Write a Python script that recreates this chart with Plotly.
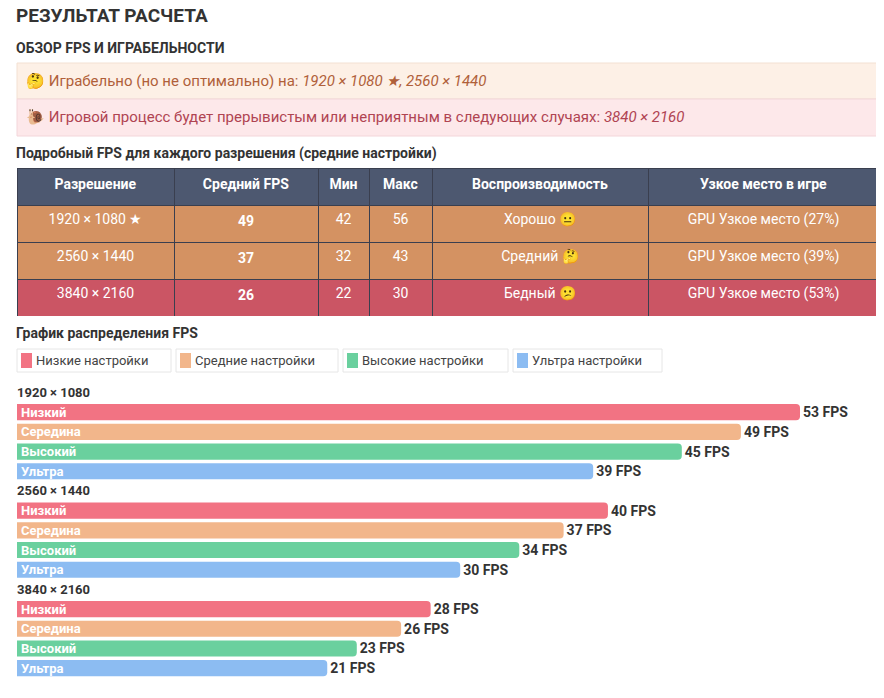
import plotly.graph_objects as go

# data ------------------------------------------------------------------------
resolutions = ["1920 × 1080", "2560 × 1440", "3840 × 2160"]
settings = ["Низкий", "Середина", "Высокий", "Ультра"]
legend_names = ["Низкие настройки", "Средние настройки", "Высокие настройки", "Ультра настройки"]
fps_low = [53, 40, 28]
fps_mid = [49, 37, 26]
fps_high = [45, 34, 23]
fps_ultra = [39, 30, 21]
colors = ["#f27383", "#f2b68b", "#6ad09e", "#8cbcf2"]

tbl_res = ["1920 × 1080 ★", "2560 × 1440", "3840 × 2160"]
tbl_avg = [49, 37, 26]
tbl_min = [42, 32, 22]
tbl_max = [56, 43, 30]
tbl_play = ["Хорошо 😐", "Средний 🤔", "Бедный 😕"]
tbl_bottleneck = ["GPU Узкое место (27%)", "GPU Узкое место (39%)", "GPU Узкое место (53%)"]
row_colors = ["#d49262", "#d49262", "#cb5564"]

W, H = 884, 698
OFF = 8  # page body margin
FONT = "Roboto"


def py(px):
    return 1 - (px - OFF) / H


def pxx(px):
    return (px - OFF) / W


fig = go.Figure()

# bar chart -------------------------------------------------------------------
series = [fps_low, fps_mid, fps_high, fps_ultra]
slots = []
for r in resolutions:
    slots.append(r + "|h")
    for s in settings:
        slots.append(r + "|" + s)

for si, (name, vals) in enumerate(zip(settings, series)):
    fig.add_trace(go.Bar(
        orientation="h",
        x=vals,
        y=[r + "|" + name for r in resolutions],
        marker=dict(color=colors[si], line=dict(width=0)),
        width=0.82,
        text=[f"<b>{v} FPS</b>" for v in vals],
        textposition="outside",
        cliponaxis=False,
        textfont=dict(size=14, color="#333", family=FONT),
        showlegend=False,
        hoverinfo="skip",
    ))
    for r in resolutions:
        fig.add_annotation(x=0, y=r + "|" + name, xref="x", yref="y", text=f"<b>{name}</b>",
                           showarrow=False, xanchor="left", xshift=2,
                           font=dict(size=13, color="white", family=FONT))

for r in resolutions:
    fig.add_annotation(x=0, y=r + "|h", xref="x", yref="y", text=f"<b>{r}</b>",
                       showarrow=False, xanchor="left", xshift=-2,
                       font=dict(size=13, color="#333", family=FONT))

fig.update_layout(
    xaxis=dict(domain=[pxx(17), pxx(800)], range=[0, 53], visible=False, fixedrange=True),
    yaxis=dict(domain=[py(678), py(383)], categoryorder="array", categoryarray=slots,
               autorange="reversed", visible=False, type="category"),
    barcornerradius=4,
    bargap=0.18,
)

# table -----------------------------------------------------------------------
fig.add_trace(go.Table(
    domain=dict(x=[pxx(17), pxx(879)], y=[py(316), py(168)]),
    columnwidth=[157, 144, 51, 63, 216, 231],
    header=dict(values=["<b>Разрешение</b>", "<b>Средний FPS</b>", "<b>Мин</b>", "<b>Макс</b>",
                        "<b>Воспроизводимость</b>", "<b>Узкое место в игре</b>"],
                fill_color="#4d5870", line_color="#3a3f4f", height=37, align="center",
                font=dict(color="white", size=14, family=FONT)),
    cells=dict(values=[tbl_res, [f"<b>{v}</b>" for v in tbl_avg], tbl_min, tbl_max, tbl_play, tbl_bottleneck],
               fill_color=[row_colors] * 6, line_color="#3a3f4f", height=37, align="center",
               font=dict(color="white", size=14, family=FONT)),
))

# header texts and boxes ------------------------------------------------------
def text(x, y, s, size, color, bold=False):
    if bold:
        s = f"<b>{s}</b>"
    fig.add_annotation(x=pxx(x), y=py(y), xref="paper", yref="paper", text=s, showarrow=False,
                       xanchor="left", yanchor="middle", font=dict(size=size, color=color, family=FONT))


def rect(x0, y0, x1, y1, fill, line="rgba(0,0,0,0)"):
    fig.add_shape(type="rect", xref="paper", yref="paper", x0=pxx(x0), x1=pxx(x1), y0=py(y1), y1=py(y0),
                  fillcolor=fill, line=dict(color=line, width=1), layer="below")


text(14, 16, "РЕЗУЛЬТАТ РАСЧЕТА", 19, "#333", bold=True)
text(14, 48, "ОБЗОР FPS И ИГРАБЕЛЬНОСТИ", 14, "#333", bold=True)
rect(17, 63, 879, 99, "#fdf0e6", "#f3e0d2")
rect(17, 99, 879, 136, "#fde8ea", "#f3d6da")
text(24, 81, "🤔 Играбельно (но не оптимально) на: <i>1920 × 1080 ★, 2560 × 1440</i>", 15, "#b0603a")
text(24, 117, "🐌 Игровой процесс будет прерывистым или неприятным в следующих случаях: <i>3840 × 2160</i>", 15, "#b04452")
text(14, 153, "Подробный FPS для каждого разрешения (средние настройки)", 14, "#333", bold=True)
text(14, 333, "График распределения FPS", 14, "#333", bold=True)

legend_x = [(17, 171), (176, 338), (343, 508), (513, 662)]
for (x0, x1), name, c in zip(legend_x, legend_names, colors):
    rect(x0, 349, x1, 372, "white", "#e6e6e6")
    rect(x0 + 4, 353, x0 + 15, 368, c)
    text(x0 + 17, 360, name, 13, "#444")

fig.update_layout(
    width=W, height=H,
    margin=dict(l=0, r=0, t=0, b=0),
    paper_bgcolor="white", plot_bgcolor="white",
    font=dict(family=FONT),
)

fig.write_html("out.html")
